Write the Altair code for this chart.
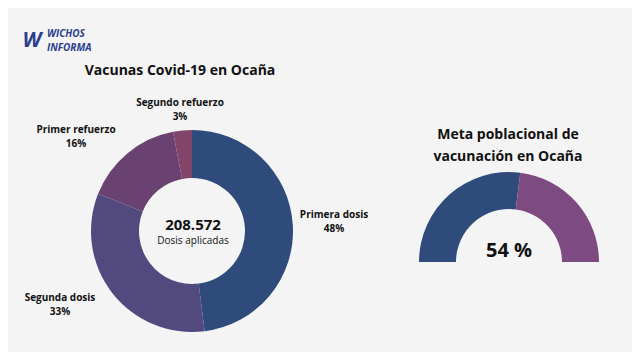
import math
import altair as alt
import pandas as pd

# ---- data ----
categories = ["Primera dosis", "Segunda dosis", "Primer refuerzo", "Segundo refuerzo"]
shares = [48, 33, 16, 3]
slice_colors = ["#2F4B7C", "#524A7E", "#6A4271", "#83446A"]
total_doses = "208.572"
total_label = "Dosis aplicadas"
goal_labels = ["Vacunado", "Pendiente"]
goal_values = [54, 46]
goal_colors = ["#2F4B7C", "#7E4A82"]

# ---- layout (chart pixel coords; page margin is 8px) ----
OFF = 8
donut_cx, donut_cy = 192 - OFF, 231 - OFF
gauge_cx, gauge_cy = 509 - OFF, 262 - OFF
label_pos = {
    "Primera dosis": (334, 215),
    "Segunda dosis": (60, 298),
    "Primer refuerzo": (76, 130),
    "Segundo refuerzo": (180, 103),
}
FONT = "Open Sans"
one = alt.Data(values=[{}])


def txt(s, x, y, size, weight="bold", color="#111111", style="normal", align="center"):
    return alt.Chart(one).mark_text(
        x=x - OFF, y=y - OFF, fontSize=size, fontWeight=weight, font=FONT,
        color=color, fontStyle=style, align=align, baseline="middle",
    ).encode(text=alt.value(s))


df = pd.DataFrame({"cat": categories, "share": shares, "order": list(range(len(categories)))})
donut = alt.Chart(df).mark_arc(radius=101, innerRadius=53, x=donut_cx, y=donut_cy).encode(
    theta=alt.Theta("share:Q", stack=True),
    order=alt.Order("order:Q"),
    color=alt.Color("cat:N", scale=alt.Scale(domain=categories, range=slice_colors), legend=None),
)

gdf = pd.DataFrame({"k": goal_labels, "v": goal_values, "o": [0, 1]})
gauge = alt.Chart(gdf).mark_arc(radius=90, innerRadius=53, x=gauge_cx, y=gauge_cy).encode(
    theta=alt.Theta("v:Q", stack=True, scale=alt.Scale(range=[-math.pi / 2, math.pi / 2])),
    order=alt.Order("o:Q"),
    color=alt.Color("k:N", scale=alt.Scale(domain=goal_labels, range=goal_colors), legend=None),
)

layers = [donut, gauge]
layers.append(txt("Vacunas Covid-19 en Ocaña", 180, 71, 14))
for c, s in zip(categories, shares):
    x, y = label_pos[c]
    layers.append(txt(c, x, y, 10))
    layers.append(txt(f"{s}%", x, y + 14, 10))
layers.append(txt(total_doses, 193, 225, 15))
layers.append(txt(total_label, 193, 241, 10, weight="normal"))
layers.append(txt("Meta poblacional de", 508, 135, 14))
layers.append(txt("vacunación en Ocaña", 508, 157, 14))
layers.append(txt(f"{goal_values[0]} %", 509, 251, 20))
# logo
layers.append(txt("W", 32, 41, 21, color="#2D3E8E", style="italic"))
layers.append(txt("WICHOS", 47, 34, 10, color="#2D3E8E", style="italic", align="left"))
layers.append(txt("INFORMA", 47, 48, 10, color="#2D3E8E", style="italic", align="left"))

chart = alt.layer(*layers).resolve_scale(color="independent", theta="independent").properties(
    width=624, height=344, autosize=alt.AutoSizeParams(type="none"), padding=0,
    background="#f4f4f4",
).configure_view(stroke=None)

chart.save("out.html", embed_options={"renderer": "svg", "actions": False})
